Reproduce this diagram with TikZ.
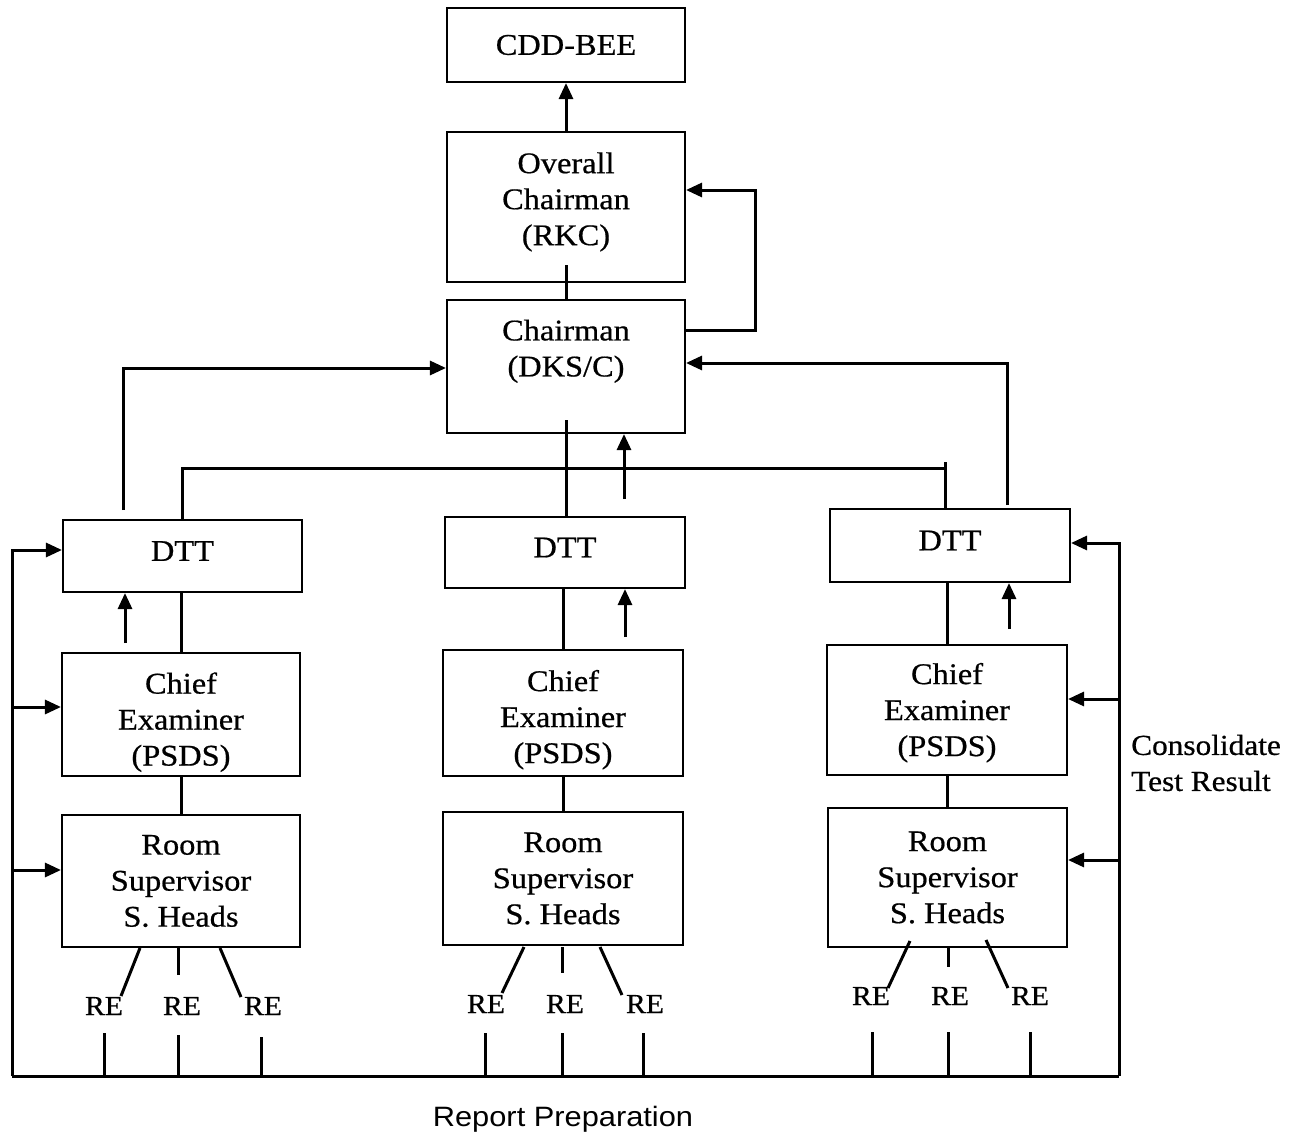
\documentclass[tikz,border=0pt]{standalone}
\usepackage{fontspec}
\setmainfont{Liberation Serif}[FakeStretch=1.08, FakeBold=0.6]
\newfontfamily\arialfont{Liberation Sans}[FakeStretch=1.1]
\usetikzlibrary{arrows.meta}
\newcommand\bxfont{\fontsize{30}{36}\selectfont}
\newcommand\myrefont{\fontsize{27.5}{30}\selectfont}
\newcommand\consfont{\fontsize{29}{36}\selectfont}
\newcommand\repfont{\arialfont\fontsize{28}{34}\selectfont}
\newcommand\tup[1]{\rule{0pt}{#1pt}}
\newcommand\tdn[1]{\rule[-#1pt]{0pt}{0pt}}
\begin{document}
\begin{tikzpicture}[x=1pt,y=-1pt,
  box/.style={draw, line width=2.1pt, inner sep=0pt, align=center, font=\bxfont},
  ln/.style={line width=3pt},
  arr/.style={line width=3pt, -{Triangle[length=16pt,width=14pt]}},
  re/.style={inner sep=0pt, font=\myrefont}]
\useasboundingbox (0,0) rectangle (1302,1135);

% boxes
\node[box, minimum width=238pt, minimum height=74pt] (cdd) at (566,45) {CDD-BEE};
\node[box, minimum width=238pt, minimum height=150pt] (overall) at (566,207) {Overall\\Chairman\\(RKC)\tdn{16.5}};
\node[box, minimum width=238pt, minimum height=133pt] (chair) at (566,366.5) {Chairman\\(DKS/C)\tdn{37}};

\node[box, minimum width=239pt, minimum height=72pt, text depth=10pt] (dttL) at (182.5,556) {DTT};
\node[box, minimum width=240pt, minimum height=71pt, text depth=10pt] (dttM) at (565,552.5) {DTT};
\node[box, minimum width=240pt, minimum height=73pt, text depth=10pt] (dttR) at (950,545.5) {DTT};

\node[box, minimum width=238pt, minimum height=123pt] (chiefL) at (181,714.5) {\tup{36.5}Chief\\Examiner\\(PSDS)};
\node[box, minimum width=240pt, minimum height=126pt] (chiefM) at (563,713) {\tup{34.5}Chief\\Examiner\\(PSDS)};
\node[box, minimum width=240pt, minimum height=130pt] (chiefR) at (947,710) {\tup{26.5}Chief\\Examiner\\(PSDS)};

\node[box, minimum width=238pt, minimum height=132pt] (roomL) at (181,881) {Room\\Supervisor\\S. Heads};
\node[box, minimum width=240pt, minimum height=133pt] (roomM) at (563,878.5) {Room\\Supervisor\\S. Heads};
\node[box, minimum width=239pt, minimum height=139pt] (roomR) at (947.5,877.5) {Room\\Supervisor\\S. Heads};

% RE labels
\node[re] (reL1) at (104,1006) {RE};
\node[re] (reL2) at (182,1006) {RE};
\node[re] (reL3) at (263,1006) {RE};
\node[re] (reM1) at (486,1004) {RE};
\node[re] (reM2) at (565,1004) {RE};
\node[re] (reM3) at (645,1004) {RE};
\node[re] (reR1) at (871,996) {RE};
\node[re] (reR2) at (950,996) {RE};
\node[re] (reR3) at (1030,996) {RE};

% side texts
\node[anchor=west, align=left, inner sep=0pt, font=\consfont] (cons) at (1131,763) {Consolidate\\Test Result};
\node[inner sep=0pt, font=\repfont] (rep) at (563,1119) {Report Preparation};

% coordinates
\coordinate (oc) at (566,265);
\coordinate (cm) at (566,420);
\coordinate (ca) at (624,499);
\coordinate (b1) at (182,468);
\coordinate (b2) at (945,468);
\coordinate (b2t) at (945,462);
\coordinate (l0) at (123,510);
\coordinate (l1) at (123,368);
\coordinate (r0) at (1007,505);
\coordinate (r1) at (1007,363);
\coordinate (f1) at (755,330);
\coordinate (f2) at (755,190);
\coordinate (aL) at (125,643);
\coordinate (aM) at (625,637);
\coordinate (aR) at (1009,629);
\coordinate (BL) at (12,1076);
\coordinate (BR) at (1119,1076);
\coordinate (L1) at (12,550);
\coordinate (L2) at (12,707);
\coordinate (L3) at (12,870);
\coordinate (R1) at (1119,543);
\coordinate (R2) at (1119,699);
\coordinate (R3) at (1119,860);

% top part
\draw[arr] (overall.north) -- (cdd.south);
\draw[ln] (oc) -- (oc |- chair.north);
\draw[arr] (f1 -| chair.east) -- (f1) -- (f2) -- (f2 -| overall.east);
\draw[arr] (r0) -- (r1) -- (r1 -| chair.east);
\draw[arr] (l0) -- (l1) -- (l1 -| chair.west);
\draw[ln] (cm) -- (cm |- dttM.north);
\draw[arr] (ca) -- (ca |- chair.south);
\draw[ln] (b1 |- dttL.north) -- (b1) -- (b2);
\draw[ln] (b2t) -- (b2t |- dttR.north);

% DTT - chief - room
\draw[ln] (chiefL.north) -- (chiefL.north |- dttL.south);
\draw[ln] (chiefM.north) -- (chiefM.north |- dttM.south);
\draw[ln] (chiefR.north) -- (chiefR.north |- dttR.south);
\draw[arr] (aL) -- (aL |- dttL.south);
\draw[arr] (aM) -- (aM |- dttM.south);
\draw[arr] (aR) -- (aR |- dttR.south);
\draw[ln] (chiefL.south) -- (chiefL.south |- roomL.north);
\draw[ln] (chiefM.south) -- (chiefM.south |- roomM.north);
\draw[ln] (chiefR.south) -- (chiefR.south |- roomR.north);

% room to RE
\draw[ln] (140,948) -- (121,996);
\draw[ln] (178,948) -- (178,975);
\draw[ln] (220,948) -- (241,997);
\draw[ln] (524,947) -- (502,993);
\draw[ln] (562,947) -- (562,973);
\draw[ln] (600,947) -- (622,995);
\draw[ln] (910,941) -- (888,988);
\draw[ln] (948,947) -- (948,967);
\draw[ln] (986,940) -- (1008,988);

% RE ticks
\draw[ln] (104,1033) -- (104,1076);
\draw[ln] (178,1035) -- (178,1076);
\draw[ln] (261,1037) -- (261,1076);
\draw[ln] (485,1033) -- (485,1076);
\draw[ln] (562,1033) -- (562,1076);
\draw[ln] (643,1033) -- (643,1076);
\draw[ln] (872,1032) -- (872,1076);
\draw[ln] (948,1032) -- (948,1076);
\draw[ln] (1030,1032) -- (1030,1076);

% outer loops
\draw[ln] (BL) -- (BR);
\draw[arr] (BL) -- (L1) -- (L1 -| dttL.west);
\draw[arr] (L2) -- (L2 -| chiefL.west);
\draw[arr] (L3) -- (L3 -| roomL.west);
\draw[arr] (BR) -- (R1) -- (R1 -| dttR.east);
\draw[arr] (R2) -- (R2 -| chiefR.east);
\draw[arr] (R3) -- (R3 -| roomR.east);
\end{tikzpicture}
\end{document}
